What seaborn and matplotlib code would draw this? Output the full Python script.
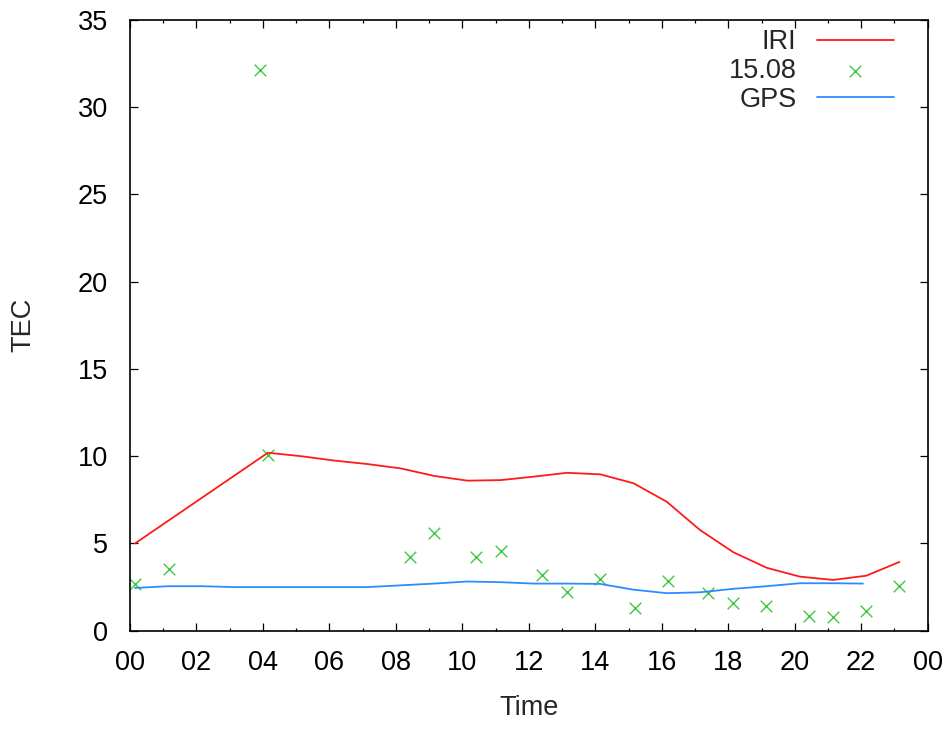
import matplotlib
matplotlib.use("Agg")
import matplotlib.pyplot as plt
import seaborn as sns
import pandas as pd
from matplotlib.ticker import MultipleLocator, FuncFormatter

# ---- data ----
iri_time = [0.15, 4.15, 5.15, 6.15, 7.15, 8.15, 9.15, 10.15, 11.15, 12.15, 13.15,
            14.15, 15.15, 16.15, 17.15, 18.15, 19.15, 20.15, 21.15, 22.15, 23.15]
iri_tec = [5.0, 10.2, 10.0, 9.75, 9.55, 9.3, 8.87, 8.6, 8.63, 8.83, 9.05,
           8.96, 8.45, 7.39, 5.77, 4.5, 3.61, 3.1, 2.91, 3.15, 3.94]

obs_time = [0.15, 1.18, 3.91, 4.14, 8.43, 9.16, 10.42, 11.17, 12.40, 13.15,
            14.14, 15.18, 16.18, 17.40, 18.15, 19.14, 20.42, 21.14, 22.14, 23.14]
obs_tec = [2.68, 3.55, 32.13, 10.05, 4.2, 5.62, 4.2, 4.55, 3.21, 2.22,
           2.94, 1.32, 2.83, 2.14, 1.59, 1.42, 0.86, 0.77, 1.15, 2.58]

gps_time = [0.15, 1.15, 2.15, 3.15, 4.15, 5.15, 6.15, 7.15, 8.15, 9.15, 10.15,
            11.15, 12.15, 13.15, 14.15, 15.15, 16.15, 17.15, 18.15, 19.15, 20.15,
            21.15, 22.05]
gps_tec = [2.45, 2.55, 2.55, 2.5, 2.5, 2.5, 2.5, 2.5, 2.6, 2.7, 2.82,
           2.78, 2.7, 2.7, 2.68, 2.35, 2.15, 2.2, 2.4, 2.55, 2.72,
           2.72, 2.7]

series_labels = ["IRI", "15.08", "GPS"]
x_label = "Time"
y_label = "TEC"

# ---- style ----
sns.set_style("ticks")
plt.rcParams["font.family"] = ["Liberation Sans", "DejaVu Sans"]
FS = 19.5

fig = plt.figure(figsize=(9.5, 7.31), dpi=100)
ax = fig.add_axes([130 / 950, 1 - 630.7 / 731, (927.7 - 130) / 950, (630.7 - 20) / 731])

iri_df = pd.DataFrame({"t": iri_time, "v": iri_tec})
obs_df = pd.DataFrame({"t": obs_time, "v": obs_tec})
gps_df = pd.DataFrame({"t": gps_time, "v": gps_tec})

sns.lineplot(data=iri_df, x="t", y="v", color="#ff1a1a", linewidth=1.3,
             label=series_labels[0], ax=ax, sort=False)
sns.scatterplot(data=obs_df, x="t", y="v", color="#3ec83e", marker="x", s=70,
                linewidth=1.0, label=series_labels[1], ax=ax)
sns.lineplot(data=gps_df, x="t", y="v", color="#2b8cff", linewidth=1.3,
             label=series_labels[2], ax=ax, sort=False)

ax.set_xlim(0, 24)
ax.set_ylim(0, 35)
ax.xaxis.set_major_locator(MultipleLocator(2))
ax.xaxis.set_minor_locator(MultipleLocator(1))
ax.yaxis.set_major_locator(MultipleLocator(5))
ax.xaxis.set_major_formatter(FuncFormatter(lambda v, p: "%02d" % (int(round(v)) % 24)))

for s in ax.spines.values():
    s.set_visible(True)
    s.set_linewidth(1.2)
    s.set_color("black")

ax.tick_params(axis="both", which="both", direction="in", top=True, right=True,
               labelsize=FS, colors="black", width=0.9)
ax.tick_params(axis="both", which="major", length=5.5)
ax.tick_params(axis="both", which="minor", length=2.5)
ax.tick_params(axis="y", which="major", pad=16)
ax.tick_params(axis="x", which="major", pad=14)

ax.set_xlabel(x_label, fontsize=FS, va="center")
ax.set_ylabel(y_label, fontsize=FS, va="center")
ax.xaxis.set_label_coords(0.5, (630.7 - 708) / 610.7)
ax.yaxis.set_label_coords((23 - 130) / 797.7, 0.5)

leg = ax.legend(loc="upper right", frameon=False, fontsize=FS, markerfirst=False,
                handlelength=2.85, handletextpad=0.75, labelspacing=0.1,
                borderaxespad=0.0, bbox_to_anchor=((894 - 130) / 797.7, 0.985),
                borderpad=0.0)

fig.savefig("out.png", dpi=100)
